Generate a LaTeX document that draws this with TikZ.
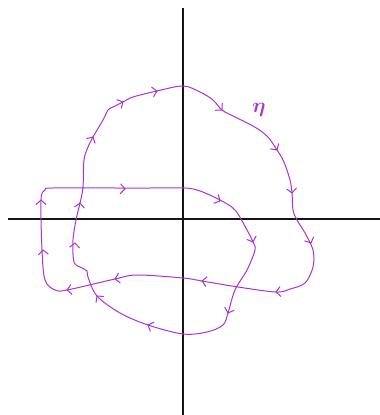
\documentclass[tikz,border=0pt]{standalone}
\usepackage{amsmath}
\usepackage{tikz}
\usetikzlibrary{arrows.meta, positioning, calc}
\definecolor{loopviolet}{HTML}{A833D2}
\definecolor{axisblack}{HTML}{151515}

\tikzset{
  axisline/.style={draw=axisblack, line width=1.1pt},
  flowline/.style={draw=loopviolet, line width=1pt},
  flowtip/.style={draw=loopviolet, line width=1pt,
    -{Straight Barb[length=4.5pt, width=10pt]}}
}

\begin{document}
\begin{tikzpicture}[x=1pt, y=-1pt]
\useasboundingbox (0,0) rectangle (380,415);
% axes
\draw[axisline] (8,219) -- (380,219);
\draw[axisline] (183,8) -- (183,415);
% the closed path
\draw[flowline] plot[smooth cycle, tension=0.55] coordinates {
  (183,86) (200,92) (213,100) (222,110) (235,117) (253,126) (267,136)
  (277,150) (284,162) (290,180) (292,193) (293,210) (297,220) (305,233)
  (313,250) (313,267) (305,283) (290,289) (276,292) (238,287) (202,281)
  (183,278) (137,275) (115,279) (67,290) (55,290) (45,280) (42,250)
  (41,200) (45,190) (53,188) (117,188) (150,188) (185,188) (200,191)
  (220,200) (235,210) (247,230) (253,242) (255,250) (247,270) (235,290)
  (228,313) (223,325) (207,332) (183,334) (148,325) (120,313) (97,296)
  (88,277) (87,271) (82,268) (74,262) (73,240) (76,220) (80,203)
  (83,187) (84,160) (88,147) (93,137) (103,120) (108,110) (113,107)
  (123,102) (133,97) (157,91)};
% direction marks
\foreach \px/\py/\ang in {222/110/45, 277/150/57, 292/193/84, 311/243/66,
    276/292/174, 202/281/188, 115/279/169, 67/290/173,
    43/250/266, 41/200/270, 125/189/3,
    220/201/28, 253/242/70, 228/313/109,
    148/325/202, 97/296/231, 75/243/275, 80/203/277,
    93/137/299, 123/102/333, 157/91/348}
  \draw[flowtip] (\px,\py) -- ++(\ang:0.6);
% label
\node[text=loopviolet, font=\LARGE\boldmath, scale=1.2] (etalabel) at (259,110) {$\eta$};
\end{tikzpicture}
\end{document}
